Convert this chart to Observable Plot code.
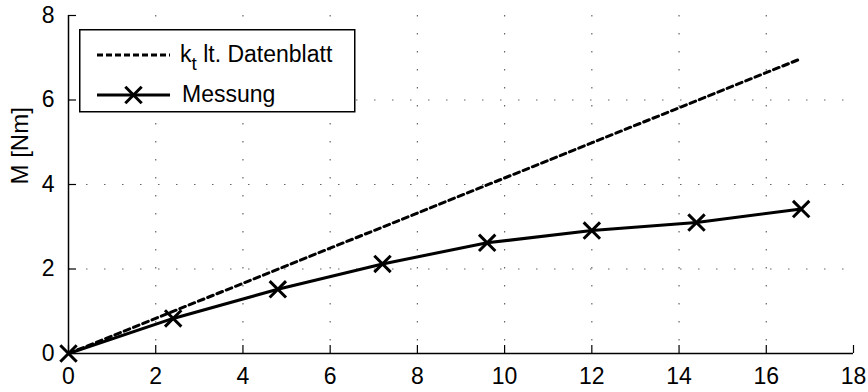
<!DOCTYPE html>
<html><head><meta charset="utf-8">
<script src="https://cdn.jsdelivr.net/npm/d3@7"></script>
<script src="https://cdn.jsdelivr.net/npm/@observablehq/plot@0.6"></script>
<style>
html,body{margin:0;padding:0;background:#fff}
#wrap{position:relative;width:868px;height:392px;font-family:"Liberation Sans",Arial,sans-serif}
#legend{position:absolute;left:79px;top:29px}
</style></head><body><div id="wrap"></div>
<script>
// Data
const current = [0, 2.4, 4.8, 7.2, 9.6, 12, 14.4, 16.8];
const torqueMeasured = [0, 0.83, 1.52, 2.12, 2.62, 2.91, 3.1, 3.42];
const datasheetX = [0, 16.8];
const datasheetM = [0, 6.98];
const xTicks = [0, 2, 4, 6, 8, 10, 12, 14, 16, 18];
const yTicks = [0, 2, 4, 6, 8];
const yLabel = "M [Nm]";
const legendMain = "k";
const legendSub = "t";
const legendRest = " lt. Datenblatt";
const legendMeas = "Messung";

const measured = current.map((x, i) => ({x, y: torqueMeasured[i]}));
const datasheet = datasheetX.map((x, i) => ({x, y: datasheetM[i]}));

const gridStyle = {stroke: "#666", strokeOpacity: 1, strokeWidth: 1.2, strokeDasharray: "1.5,16.5"};
const FONT = '"Liberation Sans", Arial, sans-serif';

const chart = Plot.plot({
  width: 868,
  height: 392,
  marginLeft: 68,
  marginRight: 15,
  marginTop: 15,
  marginBottom: 39,
  style: {fontFamily: FONT, fontSize: "23px", color: "#000", background: "#fff", overflow: "visible"},
  x: {domain: [0, 18]},
  y: {domain: [0, 8]},
  marks: [
    Plot.gridX(xTicks.slice(1, -1), gridStyle),
    Plot.gridY(yTicks.slice(1, -1), gridStyle),
    Plot.axisX(xTicks, {tickSize: -8, tickPadding: 22, label: null, stroke: "#000", strokeWidth: 1.2, fontSize: 23}),
    Plot.axisY(yTicks, {tickSize: -8, tickPadding: 22, label: null, stroke: "#000", strokeWidth: 1.2, fontSize: 23}),
    Plot.ruleX([0], {stroke: "#000", strokeWidth: 1.5}),
    Plot.ruleY([0], {stroke: "#000", strokeWidth: 1.5}),
    Plot.text([yLabel], {frameAnchor: "left", rotate: -90, dx: -48, fill: "#000", fontSize: 24}),
    Plot.line(datasheet, {x: "x", y: "y", stroke: "#000", strokeWidth: 3, strokeDasharray: "6,4"}),
    Plot.line(measured, {x: "x", y: "y", stroke: "#000", strokeWidth: 3}),
    Plot.dot(measured, {x: "x", y: "y", symbol: "times", r: 7.5, stroke: "#000", strokeWidth: 3})
  ]
});
const wrap = document.getElementById("wrap");
wrap.appendChild(chart);

// Legend
const lg = d3.select(wrap).append("svg")
  .attr("id", "legend").attr("width", 277).attr("height", 84);
lg.append("rect").attr("x", 0.75).attr("y", 0.75).attr("width", 275).attr("height", 82)
  .attr("fill", "#fff").attr("stroke", "#000").attr("stroke-width", 1.5);
lg.append("line").attr("x1", 18).attr("x2", 91).attr("y1", 26).attr("y2", 26)
  .attr("stroke", "#000").attr("stroke-width", 3).attr("stroke-dasharray", "6,3");
const t1 = lg.append("text").attr("x", 101).attr("y", 33)
  .style("font-family", FONT).style("font-size", "23px");
t1.append("tspan").text(legendMain);
t1.append("tspan").attr("dy", 8).style("font-size", "19px").text(legendSub);
t1.append("tspan").attr("dy", -8).text(legendRest);
lg.append("line").attr("x1", 18).attr("x2", 91).attr("y1", 66).attr("y2", 66)
  .attr("stroke", "#000").attr("stroke-width", 3);
lg.append("path").attr("d", d3.symbol(d3.symbolTimes, Math.PI * 7.5 * 7.5)())
  .attr("transform", "translate(54.5,66)")
  .attr("fill", "none").attr("stroke", "#000").attr("stroke-width", 3);
lg.append("text").attr("x", 103).attr("y", 73)
  .style("font-family", FONT).style("font-size", "23px")
  .text(legendMeas);
</script></body></html>
